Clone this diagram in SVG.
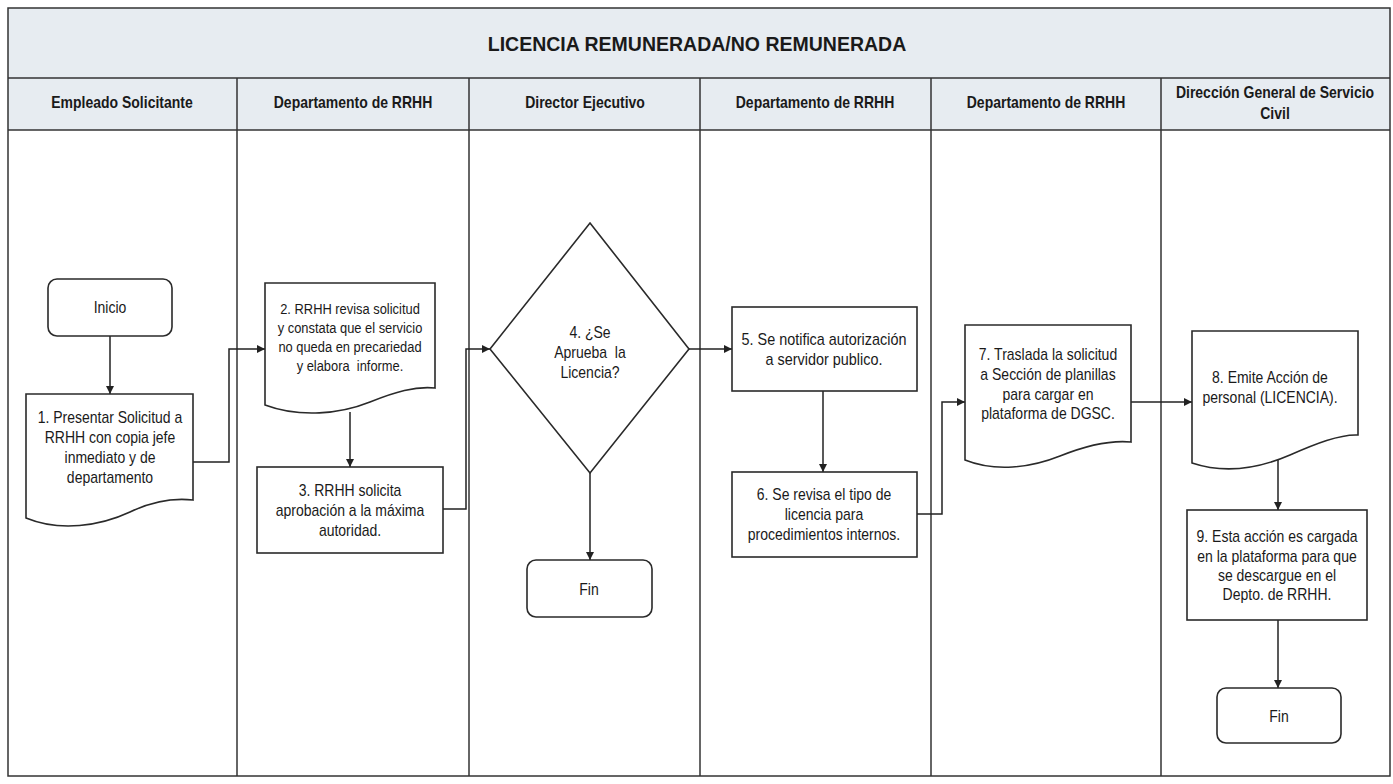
<svg xmlns="http://www.w3.org/2000/svg" width="1393" height="784" viewBox="0 0 1393 784">
<style>
.lane{fill:none;stroke:#333;stroke-width:1.5}
.hdr{fill:#e7ecf1}
.ht{font-family:"Liberation Sans",Arial,sans-serif;font-weight:bold;font-size:16px;fill:#1a1a1a;text-anchor:middle}
.title{font-family:"Liberation Sans",Arial,sans-serif;font-weight:bold;font-size:19.5px;fill:#1a1a1a;text-anchor:middle}
.box{fill:#fff;stroke:#2a2a2a;stroke-width:1.6}
.t{font-family:"Liberation Sans",Arial,sans-serif;font-size:16px;fill:#1a1a1a;text-anchor:middle;white-space:pre}
.ts{font-family:"Liberation Sans",Arial,sans-serif;font-size:15px;fill:#1a1a1a;text-anchor:middle;white-space:pre}
.c{fill:none;stroke:#222;stroke-width:1.5;marker-end:url(#ah)}
</style>
<defs>
<marker id="ah" viewBox="0 0 10 10" refX="10" refY="5" markerWidth="8" markerHeight="8" markerUnits="userSpaceOnUse" orient="auto">
<path d="M0,0 L10,5 L0,10 Z" fill="#222"/>
</marker>
</defs>
<rect x="0" y="0" width="1393" height="784" fill="#fff"/>
<g id="lanes">
<rect class="hdr" x="8" y="8" width="1382" height="122"/>
<rect class="lane" x="8" y="8" width="1382" height="768"/>
<line class="lane" x1="8" y1="78" x2="1390" y2="78"/>
<line class="lane" x1="8" y1="130" x2="1390" y2="130"/>
<line class="lane" x1="237" y1="78" x2="237" y2="776"/>
<line class="lane" x1="469" y1="78" x2="469" y2="776"/>
<line class="lane" x1="700" y1="78" x2="700" y2="776"/>
<line class="lane" x1="931" y1="78" x2="931" y2="776"/>
<line class="lane" x1="1161" y1="78" x2="1161" y2="776"/>
<text class="title" x="697" y="51">LICENCIA REMUNERADA/NO REMUNERADA</text>
<g transform="translate(122 0) scale(0.875 1)"><text class="ht" x="0" y="108">Empleado Solicitante</text></g>
<g transform="translate(353 0) scale(0.875 1)"><text class="ht" x="0" y="108">Departamento de RRHH</text></g>
<g transform="translate(585 0) scale(0.875 1)"><text class="ht" x="0" y="108">Director Ejecutivo</text></g>
<g transform="translate(815 0) scale(0.875 1)"><text class="ht" x="0" y="108">Departamento de RRHH</text></g>
<g transform="translate(1046 0) scale(0.875 1)"><text class="ht" x="0" y="108">Departamento de RRHH</text></g>
<g transform="translate(1275 0) scale(0.875 1)"><text class="ht" x="0" y="98">Dirección General de Servicio</text><text class="ht" x="0" y="119">Civil</text></g>
</g>
<g id="connectors">
<path class="c" d="M110,336 V394"/>
<path class="c" d="M193,462 H229 V349 H265"/>
<path class="c" d="M350,412 V467"/>
<path class="c" d="M443,509 H466 V349 H490"/>
<path class="c" d="M590,473 V560"/>
<path class="c" d="M689,349 H732"/>
<path class="c" d="M823,391 V472"/>
<path class="c" d="M917,514 H942 V402 H965"/>
<path class="c" d="M1131,402 H1192"/>
<path class="c" d="M1278,460 V510"/>
<path class="c" d="M1278,620 V688"/>
</g>
<g id="inicio">
<rect class="box" x="48" y="279" width="124" height="57" rx="9"/>
<g transform="translate(110 0) scale(0.875 1)"><text class="t" x="0" y="313">Inicio</text></g>
</g>
<g id="n1">
<path class="box" d="M26,394 H193 V500 C175,498 155,500 130,512 C100,526 60,532 26,518 Z"/>
<g transform="translate(110 0) scale(0.875 1)">
<text class="t" x="0" y="423">1. Presentar Solicitud a</text>
<text class="t" x="0" y="443">RRHH con copia jefe</text>
<text class="t" x="0" y="463">inmediato y de</text>
<text class="t" x="0" y="483">departamento</text>
</g>
</g>
<g id="n2">
<path class="box" d="M265,283 H435 V388 C415,386 395,392 370,402 C340,414 300,418 265,405 Z"/>
<g transform="translate(350 0) scale(0.86 1)">
<text class="ts" x="0" y="314">2. RRHH revisa solicitud</text>
<text class="ts" x="0" y="333">y constata que el servicio</text>
<text class="ts" x="0" y="352">no queda en precariedad</text>
<text class="ts" x="0" y="371">y elabora  informe.</text>
</g>
</g>
<g id="n3">
<rect class="box" x="257" y="467" width="186" height="86"/>
<g transform="translate(350 0) scale(0.875 1)">
<text class="t" x="0" y="496">3. RRHH solicita</text>
<text class="t" x="0" y="516">aprobación a la máxima</text>
<text class="t" x="0" y="536">autoridad.</text>
</g>
</g>
<g id="n4">
<path class="box" d="M590,223 L689,349 L590,473 L490,349 Z"/>
<g transform="translate(590 0) scale(0.875 1)">
<text class="t" x="0" y="338">4. ¿Se</text>
<text class="t" x="0" y="358">Aprueba  la</text>
<text class="t" x="0" y="378">Licencia?</text>
</g>
</g>
<g id="fin1">
<rect class="box" x="527" y="560" width="125" height="57" rx="9"/>
<g transform="translate(589 0) scale(0.875 1)"><text class="t" x="0" y="595">Fin</text></g>
</g>
<g id="n5">
<rect class="box" x="732" y="307" width="185" height="84"/>
<g transform="translate(824 0) scale(0.9 1)">
<text class="t" x="0" y="345">5. Se notifica autorización</text>
<text class="t" x="0" y="365">a servidor publico.</text>
</g>
</g>
<g id="n6">
<rect class="box" x="732" y="472" width="185" height="85"/>
<g transform="translate(824 0) scale(0.875 1)">
<text class="t" x="0" y="500">6. Se revisa el tipo de</text>
<text class="t" x="0" y="520">licencia para</text>
<text class="t" x="0" y="540">procedimientos internos.</text>
</g>
</g>
<g id="n7">
<path class="box" d="M965,325 H1131 V442 C1110,440 1085,446 1060,456 C1030,468 995,472 965,460 Z"/>
<g transform="translate(1048 0) scale(0.875 1)">
<text class="t" x="0" y="360">7. Traslada la solicitud</text>
<text class="t" x="0" y="380">a Sección de planillas</text>
<text class="t" x="0" y="400">para cargar en</text>
<text class="t" x="0" y="419">plataforma de DGSC.</text>
</g>
</g>
<g id="n8">
<path class="box" d="M1192,331 H1358 V435 C1340,434 1315,444 1290,455 C1260,468 1225,474 1192,463 Z"/>
<g transform="translate(1270 0) scale(0.875 1)">
<text class="t" x="0" y="383">8. Emite Acción de</text>
<text class="t" x="0" y="403">personal (LICENCIA).</text>
</g>
</g>
<g id="n9">
<rect class="box" x="1187" y="510" width="180" height="110"/>
<g transform="translate(1277 0) scale(0.875 1)">
<text class="t" x="0" y="542">9. Esta acción es cargada</text>
<text class="t" x="0" y="562">en la plataforma para que</text>
<text class="t" x="0" y="581">se descargue en el</text>
<text class="t" x="0" y="600">Depto. de RRHH.</text>
</g>
</g>
<g id="fin2">
<rect class="box" x="1217" y="688" width="124" height="55" rx="9"/>
<g transform="translate(1279 0) scale(0.875 1)"><text class="t" x="0" y="722">Fin</text></g>
</g>
</svg>
